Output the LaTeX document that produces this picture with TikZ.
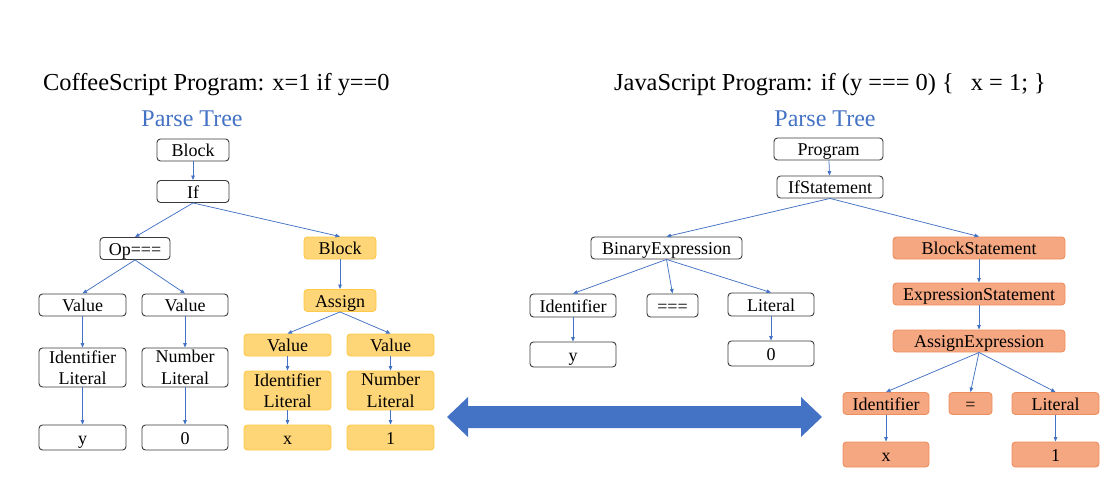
\documentclass[tikz,border=0pt]{standalone}
\usepackage{fontspec}
\setmainfont{Liberation Serif}
\usetikzlibrary{arrows.meta}
\definecolor{linkblue}{HTML}{4472C4}
\definecolor{boxgray}{HTML}{3A3A3A}
\definecolor{yfill}{HTML}{FFD677}
\definecolor{ydraw}{HTML}{FFC846}
\definecolor{ofill}{HTML}{F5A781}
\definecolor{odraw}{HTML}{EE8E5E}
\tikzset{
  base/.style={draw=boxgray, rounded corners=3.5pt, line width=0.9pt, inner sep=0pt,
    minimum height=22pt, font=\fontsize{18}{20}\selectfont},
  one/.style={base, text height=13.5pt, text depth=0pt},
  two/.style={base, align=center, minimum height=39pt, font=\fontsize{18}{21.5}\selectfont},
  yel/.style={fill=yfill, draw=ydraw},
  ora/.style={fill=ofill, draw=odraw},
  leaf/.style={minimum height=25pt},
  link/.style={draw=linkblue, line width=0.75pt, -{Triangle[length=4.5pt,width=3.6pt]}},
  title/.style={font=\fontsize{24.4}{28}\selectfont, anchor=base west, inner sep=0pt},
  ptitle/.style={font=\fontsize{24}{28}\selectfont, text=linkblue, anchor=base, inner sep=0pt}
}
\begin{document}
\begin{tikzpicture}[x=1pt,y=-1pt]
\useasboundingbox (0,0) rectangle (1115,500);
% titles
\node[title] (t1) at (43,91) {CoffeeScript Program: x=1 if y==0};
\node[title] (t2) at (614,91) {JavaScript Program: if (y === 0) \{\hspace{0.7em}x = 1; \}};
\node[ptitle] (p1) at (192,126) {Parse Tree};
\node[ptitle] (p2) at (825,126) {Parse Tree};
% left tree
\node[one, minimum width=72pt] (b1) at (193,150) {Block};
\node[one, minimum width=72pt] (if1) at (193,191.5) {If};
\node[one, minimum width=70pt] (op) at (135,248.5) {Op===};
\node[one, yel, minimum width=72pt] (yb) at (340,248) {Block};
\node[one, minimum width=87pt] (v1) at (82.5,305) {Value};
\node[one, minimum width=86pt] (v2) at (185,305) {Value};
\node[two, minimum width=87pt] (il) at (82.5,367.5) {Identifier\\Literal};
\node[two, minimum width=86pt] (nl) at (185,367.5) {Number\\Literal};
\node[one, leaf, minimum width=87pt] (ly) at (82.5,437.5) {y};
\node[one, leaf, minimum width=86pt] (l0) at (185,437.5) {0};
\node[one, yel, minimum width=72pt] (as) at (340,300.5) {Assign};
\node[one, yel, minimum width=87pt] (yv1) at (287.5,345) {Value};
\node[one, yel, minimum width=87pt] (yv2) at (390.5,345) {Value};
\node[two, yel, minimum width=87pt] (yil) at (287.5,390.5) {Identifier\\Literal};
\node[two, yel, minimum width=87pt] (ynl) at (390.5,390.5) {Number\\Literal};
\node[one, yel, leaf, minimum width=87pt] (yx) at (287.5,437.5) {x};
\node[one, yel, leaf, minimum width=87pt] (y1) at (390.5,437.5) {1};
\draw[link] (b1) -- (if1);
\draw[link] (if1.south) -- (op.north);
\draw[link] (if1.south) -- (yb.north);
\draw[link] (op.south) -- (v1.north);
\draw[link] (op.south) -- (v2.north);
\draw[link] (v1) -- (il);
\draw[link] (v2) -- (nl);
\draw[link] (il) -- (ly);
\draw[link] (nl) -- (l0);
\draw[link] (yb) -- (as);
\draw[link] (as.south) -- (yv1.north);
\draw[link] (as.south) -- (yv2.north);
\draw[link] (yv1) -- (yil);
\draw[link] (yv2) -- (ynl);
\draw[link] (yil) -- (yx);
\draw[link] (ynl) -- (y1);
% right tree
\node[one, minimum width=109pt] (prog) at (828.5,149) {Program};
\node[one, minimum width=106pt] (ifs) at (830,187) {IfStatement};
\node[one, minimum width=151pt] (bin) at (666.5,248) {BinaryExpression};
\node[one, ora, minimum width=172pt] (bs) at (979,248) {BlockStatement};
\node[one, ora, minimum width=172pt] (es) at (979,294) {ExpressionStatement};
\node[one, ora, minimum width=172pt] (ae) at (979,341) {AssignExpression};
\node[one, minimum width=86pt, minimum height=23pt] (id) at (573,305.5) {Identifier};
\node[one, minimum width=51pt, minimum height=23pt] (eqq) at (672.5,305.5) {===};
\node[one, minimum width=86pt, minimum height=23pt] (lit) at (771,304.5) {Literal};
\node[one, leaf, minimum width=86pt] (ry) at (573,354.5) {y};
\node[one, leaf, minimum width=86pt] (r0) at (771,353.5) {0};
\node[one, ora, minimum width=86pt] (oid) at (886,403.5) {Identifier};
\node[one, ora, minimum width=43pt] (oeq) at (970.5,403.5) {=};
\node[one, ora, minimum width=87pt] (olit) at (1055.5,403.5) {Literal};
\node[one, ora, leaf, minimum width=86pt] (ox) at (886,454.5) {x};
\node[one, ora, leaf, minimum width=87pt] (o1) at (1055.5,454.5) {1};
\draw[link] (prog) -- (ifs);
\draw[link] (ifs.south) -- (bin.north);
\draw[link] (ifs.south) -- (bs.north);
\draw[link] (bin.south) -- (id.north);
\draw[link] (bin.south) -- (eqq.north);
\draw[link] (bin.south) -- (lit.north);
\draw[link] (id) -- (ry);
\draw[link] (lit) -- (r0);
\draw[link] (bs) -- (es);
\draw[link] (es) -- (ae);
\draw[link] (ae.south) -- (oid.north);
\draw[link] (ae.south) -- (oeq.north);
\draw[link] (ae.south) -- (olit.north);
\draw[link] (oid) -- (ox);
\draw[link] (olit) -- (o1);
% big double arrow
\fill[linkblue] (447,417) -- (468,397) -- (468,406) -- (801,406) -- (801,397) -- (822,417)
  -- (801,437) -- (801,428) -- (468,428) -- (468,437) -- cycle;
\end{tikzpicture}
\end{document}
